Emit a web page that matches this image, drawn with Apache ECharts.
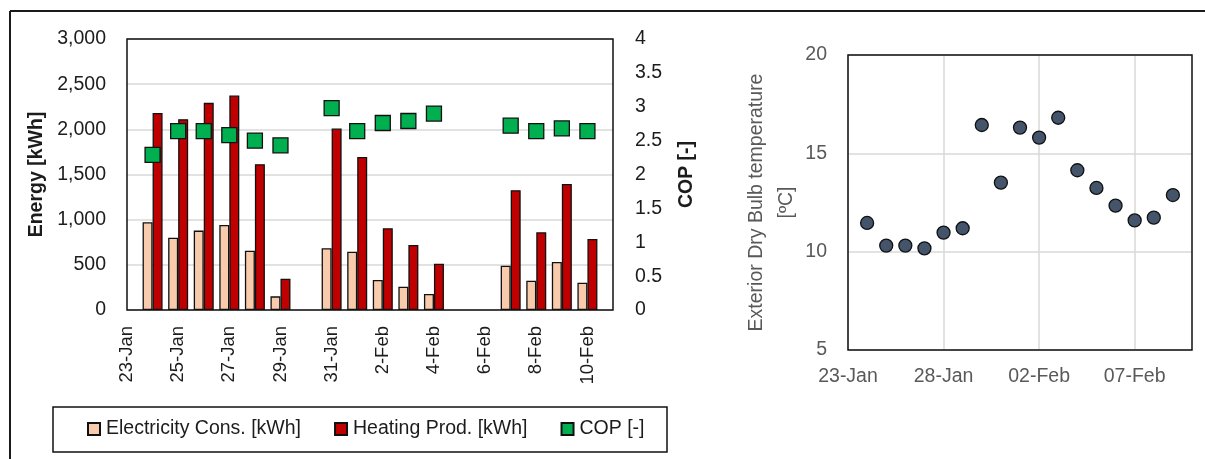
<!DOCTYPE html>
<html>
<head>
<meta charset="utf-8">
<script src="https://cdn.jsdelivr.net/npm/echarts@6/dist/echarts.min.js"></script>
<style>
  html, body { margin: 0; padding: 0; background: #ffffff; }
  #chart { width: 1205px; height: 459px; }
</style>
</head>
<body>
<div id="chart"></div>
<script>
// Daily energy balance of the heat pump (left) and outdoor temperature (right)
const energyDays = ['23-Jan', '24-Jan', '25-Jan', '26-Jan', '27-Jan', '28-Jan', '29-Jan', '30-Jan', '31-Jan',
  '1-Feb', '2-Feb', '3-Feb', '4-Feb', '5-Feb', '6-Feb', '7-Feb', '8-Feb', '9-Feb', '10-Feb', '11-Feb'];
const electricity = [null, 971, 801, 879, 942, 657, 151, null, 683, 646, 332, 258, 177, null, null, 491, 325, 532, 303, null];
const heating = [null, 2182, 2112, 2293, 2374, 1614, 347, null, 2009, 1695, 905, 720, 513, null, null, 1326, 860, 1396, 787, null];
const cop = [null, 2.29, 2.64, 2.64, 2.58, 2.50, 2.43, null, 2.98, 2.64, 2.76, 2.79, 2.90, null, null, 2.72, 2.64, 2.68, 2.64, null];

const tempDays = ['23-Jan', '24-Jan', '25-Jan', '26-Jan', '27-Jan', '28-Jan', '29-Jan', '30-Jan', '31-Jan',
  '01-Feb', '02-Feb', '03-Feb', '04-Feb', '05-Feb', '06-Feb', '07-Feb', '08-Feb', '09-Feb', '10-Feb'];
const temperature = [null, 11.46, 10.31, 10.31, 10.17, 10.97, 11.19, 16.44, 13.51, 16.31, 15.80, 16.81, 14.14, 13.24, 12.34, 11.59, 11.73, 12.88, null];

const FONT = "'Liberation Sans', Arial, sans-serif";
const INK = '#1c1c1c';
const GREY_TEXT = '#595959';
const GRID_LINE = '#d9d9d9';

const L = { left: 127, top: 39, width: 486, height: 271 };
const R = { left: 848, top: 55, width: 344, height: 295 };

const chart = echarts.init(document.getElementById('chart'), null, { renderer: 'canvas' });

chart.setOption({
  animation: false,
  textStyle: { fontFamily: FONT },
  grid: [
    { left: L.left, top: L.top, width: L.width, height: L.height, containLabel: false },
    { left: R.left, top: R.top, width: R.width, height: R.height, containLabel: false }
  ],
  legend: {
    data: ['Electricity Cons. [kWh]', 'Heating Prod. [kWh]', 'COP [-]'],
    left: 87,
    top: 419,
    padding: 0,
    itemGap: 33,
    itemWidth: 12,
    itemHeight: 12,
    icon: 'rect',
    textStyle: { fontFamily: FONT, fontSize: 19.5, color: INK, padding: [0, 0, 0, 1] }
  },
  xAxis: [
    {
      type: 'category',
      gridIndex: 0,
      data: energyDays,
      boundaryGap: false,
      axisLine: { show: false },
      axisTick: { show: false },
      splitLine: { show: false },
      axisLabel: {
        interval: 1,
        rotate: 90,
        margin: 16,
        fontFamily: FONT,
        fontSize: 18.5,
        color: INK
      }
    },
    {
      type: 'category',
      gridIndex: 1,
      data: tempDays,
      boundaryGap: false,
      axisLine: { show: false },
      axisTick: { show: false },
      splitLine: { show: true, interval: 4, lineStyle: { color: GRID_LINE, width: 1.5 } },
      axisLabel: {
        interval: 4,
        margin: 17,
        fontFamily: FONT,
        fontSize: 19.5,
        color: GREY_TEXT
      }
    }
  ],
  yAxis: [
    {
      type: 'value',
      gridIndex: 0,
      min: 0,
      max: 3000,
      interval: 500,
      name: 'Energy [kWh]',
      nameLocation: 'middle',
      nameGap: 80,
      nameTextStyle: { fontFamily: FONT, fontSize: 19.5, fontWeight: 'bold', color: INK },
      axisLine: { show: false },
      axisTick: { show: false },
      splitLine: { show: true, lineStyle: { color: GRID_LINE, width: 1.5 } },
      axisLabel: {
        margin: 21,
        fontFamily: FONT,
        fontSize: 19.5,
        color: INK,
        formatter: v => v.toLocaleString('en-US')
      }
    },
    {
      type: 'value',
      gridIndex: 0,
      position: 'right',
      min: 0,
      max: 4,
      interval: 0.5,
      name: 'COP [-]',
      nameLocation: 'middle',
      nameGap: 64,
      nameTextStyle: { fontFamily: FONT, fontSize: 19.5, fontWeight: 'bold', color: INK },
      axisLine: { show: false },
      axisTick: { show: false },
      splitLine: { show: false },
      axisLabel: { margin: 22, fontFamily: FONT, fontSize: 19.5, color: INK }
    },
    {
      type: 'value',
      gridIndex: 1,
      min: 5,
      max: 20,
      interval: 5,
      name: 'Exterior Dry Bulb temperature\n[ºC]',
      nameLocation: 'middle',
      nameGap: 46,
      nameTextStyle: { fontFamily: FONT, fontSize: 19.5, color: GREY_TEXT, lineHeight: 30 },
      axisLine: { show: false },
      axisTick: { show: false },
      splitLine: { show: true, lineStyle: { color: GRID_LINE, width: 1.5 } },
      axisLabel: { margin: 21, fontFamily: FONT, fontSize: 19.5, color: GREY_TEXT }
    }
  ],
  series: [
    {
      name: 'Electricity Cons. [kWh]',
      type: 'bar',
      xAxisIndex: 0,
      yAxisIndex: 0,
      data: electricity,
      barWidth: 10,
      barGap: '0%',
      itemStyle: { color: '#f8cbad', borderColor: '#111', borderWidth: 1.3 }
    },
    {
      name: 'Heating Prod. [kWh]',
      type: 'bar',
      xAxisIndex: 0,
      yAxisIndex: 0,
      data: heating,
      barWidth: 10,
      barGap: '0%',
      itemStyle: { color: '#c00000', borderColor: '#111', borderWidth: 1.3 }
    },
    {
      name: 'COP [-]',
      type: 'scatter',
      xAxisIndex: 0,
      yAxisIndex: 1,
      data: cop,
      symbol: 'rect',
      symbolSize: 15,
      itemStyle: { color: '#00b050', borderColor: '#111', borderWidth: 1.3, opacity: 1 },
      z: 5
    },
    {
      name: 'Exterior temperature',
      type: 'scatter',
      xAxisIndex: 1,
      yAxisIndex: 2,
      data: temperature,
      symbol: 'circle',
      symbolSize: 13,
      itemStyle: { color: '#44546a', borderColor: '#111', borderWidth: 1.3, opacity: 1 },
      z: 5
    }
  ],
  graphic: [
    // page frame (top and left rules)
    { type: 'line', z: 20, shape: { x1: 10, y1: 11, x2: 1205, y2: 11 }, style: { stroke: '#1a1a1a', lineWidth: 2 } },
    { type: 'line', z: 20, shape: { x1: 10, y1: 11, x2: 10, y2: 459 }, style: { stroke: '#1a1a1a', lineWidth: 2 } },
    // plot area outlines
    { type: 'rect', z: 20, shape: { x: L.left, y: L.top, width: L.width, height: L.height }, style: { fill: null, stroke: '#111', lineWidth: 1.5 } },
    { type: 'rect', z: 20, shape: { x: R.left, y: R.top, width: R.width, height: R.height }, style: { fill: null, stroke: '#111', lineWidth: 1.5 } },
    // legend box
    { type: 'rect', z: 20, shape: { x: 53, y: 407, width: 614, height: 45 }, style: { fill: null, stroke: '#111', lineWidth: 1.5 } }
  ]
});
</script>
</body>
</html>
